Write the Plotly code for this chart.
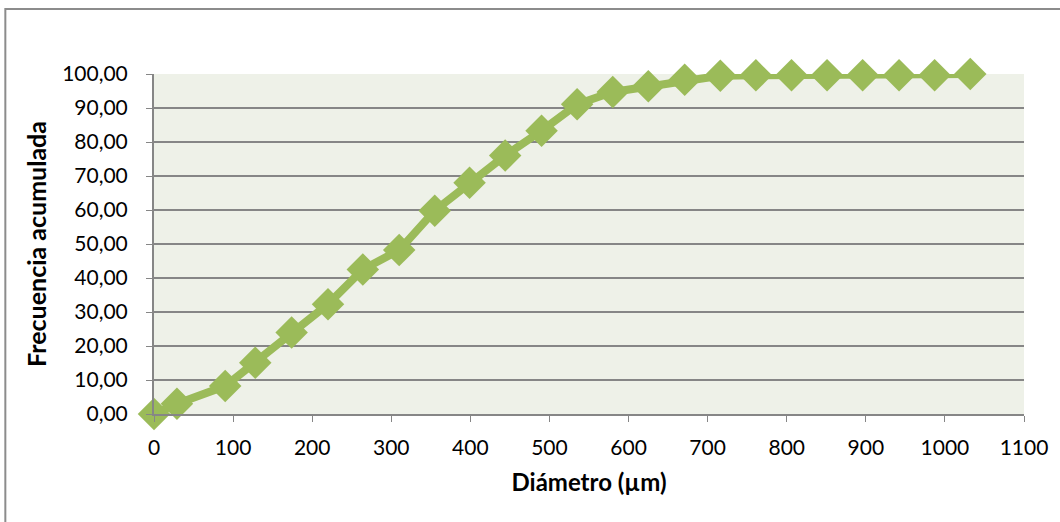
import plotly.graph_objects as go

diametro = [0, 29, 90, 128, 174, 220, 264, 310, 355, 399, 444, 490, 535, 580, 625, 671, 716, 761, 806, 851, 896, 942, 987, 1032]
frecuencia = [0.0, 3.0, 8.2, 15.1, 24.0, 32.3, 42.5, 48.2, 59.8, 68.0, 76.0, 83.3, 91.1, 94.7, 96.4, 98.3, 99.5, 99.6, 99.6, 99.6, 99.6, 99.6, 99.6, 100.0]

y_tickvals = [0, 10, 20, 30, 40, 50, 60, 70, 80, 90, 100]
y_ticktext = ["0,00", "10,00", "20,00", "30,00", "40,00", "50,00", "60,00", "70,00", "80,00", "90,00", "100,00"]
x_tickvals = [0, 100, 200, 300, 400, 500, 600, 700, 800, 900, 1000, 1100]

FONT = "Lato, Open Sans, sans-serif"

fig = go.Figure()
fig.add_trace(go.Scatter(
    x=diametro, y=frecuencia, mode="lines+markers",
    line=dict(color="#9BBB59", width=8),
    marker=dict(symbol="diamond", size=25, color="#9BBB59"),
    cliponaxis=False, showlegend=False,
))

fig.update_layout(
    width=1060, height=522,
    margin=dict(l=154, r=34, t=74, b=108),
    paper_bgcolor="white", plot_bgcolor="#EEF1E8",
    font=dict(family=FONT, size=21, color="black"),
    xaxis=dict(
        range=[0, 1100], tickvals=x_tickvals, showgrid=False, zeroline=False,
        showline=True, linecolor="#868686", linewidth=2,
        ticks="outside", ticklen=6, tickcolor="#868686", tickwidth=1,
        ticklabelstandoff=8,
        tickfont=dict(size=21, family=FONT),
        title=dict(text="<b>Diámetro (µm)</b>", font=dict(size=24, family=FONT), standoff=16),
    ),
    yaxis=dict(
        range=[0, 100], tickvals=y_tickvals, ticktext=y_ticktext,
        showgrid=True, gridcolor="#868686", gridwidth=1.5, zeroline=False,
        showline=True, linecolor="#868686", linewidth=2,
        ticks="outside", ticklen=6, tickcolor="#868686", tickwidth=1,
        ticklabelstandoff=14,
        tickfont=dict(size=21, family=FONT),
        title=dict(text="<b>Frecuencia acumulada</b>", font=dict(size=25, family=FONT), standoff=8),
    ),
    shapes=[dict(
        type="rect", xref="paper", yref="paper",
        x0=(5 - 154) / 872, x1=1.2, y0=-0.5, y1=(414 - 9) / 340,
        line=dict(color="#8C8C8C", width=2), fillcolor="rgba(0,0,0,0)", layer="below",
    )],
)

fig.write_html("out.html", config={"displayModeBar": False},
               post_script="document.body.style.margin='0';document.body.style.overflow='hidden';")
